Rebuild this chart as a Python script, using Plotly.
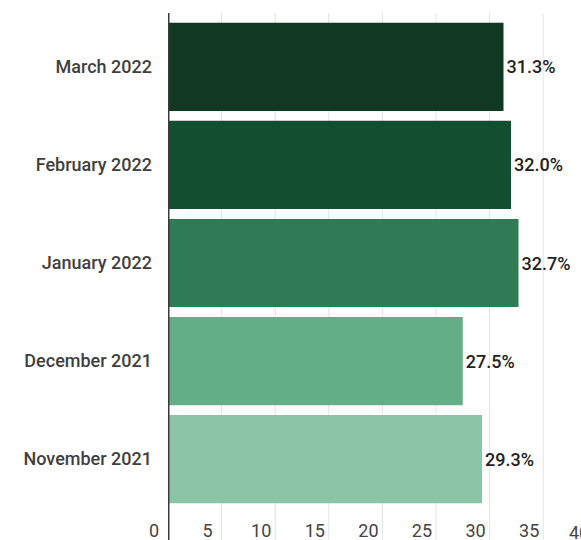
import plotly.graph_objects as go

# Monthly share (%) — listed bottom to top
months = ["November 2021", "December 2021", "January 2022", "February 2022", "March 2022"]
shares = [29.3, 27.5, 32.7, 32.0, 31.3]
bar_colors = ["#8cc4a6", "#63ad87", "#2f7b55", "#124f30", "#103823"]
tick_vals = [0, 5, 10, 15, 20, 25, 30, 35, 40]

W, H = 581, 540
LEFT, TOP, BOTTOM = 168, 13, 27
x_max = 38.53  # visible end of the value axis

fig = go.Figure(
    go.Bar(
        x=shares,
        y=months,
        orientation="h",
        marker=dict(color=bar_colors, line=dict(width=0)),
        text=[f"{v:.1f}%" for v in shares],
        textposition="outside",
        textfont=dict(family="Roboto", size=18, color="#222222", weight=500),
        cliponaxis=False,
        hoverinfo="skip",
    )
)

# Vertical gridlines running down through the tick-label band
shapes = []
for t in tick_vals[1:]:
    if t <= x_max:
        shapes.append(dict(type="line", xref="x", yref="paper", x0=t, x1=t,
                           y0=-0.06, y1=1, layer="below",
                           line=dict(color="#e3e3e3", width=1)))
# Dark baseline at zero
shapes.append(dict(type="line", xref="x", yref="paper", x0=0, x1=0,
                   y0=-0.06, y1=1, layer="above",
                   line=dict(color="#3a3a3a", width=3)))

# The last tick label sits past the visible edge of the axis
annotations = [dict(xref="paper", yref="paper", x=tick_vals[-1] / x_max, y=0,
                    yanchor="top", xanchor="center", xshift=-18, yshift=-7,
                    text=str(tick_vals[-1]), showarrow=False,
                    font=dict(family="Roboto", size=18, color="#444444"))]

fig.update_layout(
    width=W, height=H,
    margin=dict(l=LEFT, r=0, t=TOP, b=BOTTOM, pad=0),
    paper_bgcolor="white", plot_bgcolor="white",
    bargap=0.1,
    showlegend=False,
    shapes=shapes,
    annotations=annotations,
    xaxis=dict(range=[0, x_max], tickvals=tick_vals, showgrid=False,
               zeroline=False, showline=False, ticks="",
               ticklabelshift=-14, ticklabelstandoff=5,
               tickfont=dict(family="Roboto", size=18, color="#444444")),
    yaxis=dict(range=[-0.55, 4.55], showgrid=False, zeroline=False,
               showline=False, ticks="", ticklabelstandoff=15,
               tickfont=dict(family="Roboto", size=18, color="#3f3f3f", weight=500)),
)

fig.write_html("out.html")
